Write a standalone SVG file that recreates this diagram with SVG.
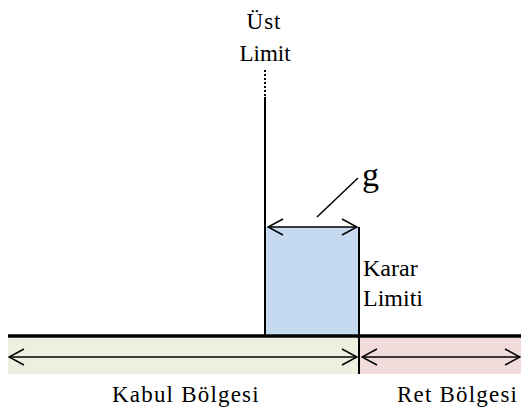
<svg xmlns="http://www.w3.org/2000/svg" width="521" height="412" viewBox="0 0 521 412">
<style>
.ln{stroke:#000;stroke-width:2;fill:none}
.arr{stroke:#000;stroke-width:1.5;fill:none;marker-start:url(#ah);marker-end:url(#ah)}
</style>
<defs>
<marker id="ah" markerUnits="userSpaceOnUse" viewBox="0 0 20 20" refX="19" refY="10" markerWidth="20" markerHeight="20" orient="auto-start-reverse">
<path d="M4,2 L19,10 L4,18" fill="none" stroke="#000" stroke-width="1.5"/>
</marker>
</defs>
<g id="regions">
<rect id="kabul-band" x="8" y="338" width="351" height="36" fill="#ebf1de"/>
<rect id="ret-band" x="360" y="338" width="161" height="36" fill="#f2dcdb"/>
<rect id="g-box" x="266" y="227" width="93" height="109" fill="#c5d9f1"/>
</g>
<g id="ust-limit">
<line x1="265" y1="70" x2="265" y2="97" stroke="#000" stroke-width="2" stroke-dasharray="2,2"/>
<line class="ln" x1="265" y1="97" x2="265" y2="336"/>
<text x="264" y="29" text-anchor="middle" font-family="Liberation Serif, serif" font-size="23" letter-spacing="1" fill="#000">Üst</text>
<text x="265" y="61" text-anchor="middle" font-family="Liberation Serif, serif" font-size="23" fill="#000">Limit</text>
</g>
<g id="karar-limiti">
<line class="ln" x1="359" y1="227" x2="359" y2="374"/>
<text x="363" y="276" font-family="Liberation Serif, serif" font-size="24" fill="#000">Karar</text>
<text x="363" y="306" font-family="Liberation Serif, serif" font-size="24" fill="#000">Limiti</text>
</g>
<g id="axis">
<line x1="8" y1="336" x2="521" y2="336" stroke="#000" stroke-width="3.5"/>
</g>
<g id="connectors">
<line class="arr" x1="268" y1="227" x2="357" y2="227"/>
<line stroke="#000" stroke-width="1.5" x1="317" y1="217" x2="358" y2="178"/>
<line class="arr" x1="9" y1="357" x2="357" y2="357"/>
<line class="arr" x1="362" y1="357" x2="520" y2="357"/>
</g>
<g id="g-label">
<text x="362" y="186" font-family="Liberation Serif, serif" font-size="34" fill="#000">g</text>
</g>
<g id="region-labels">
<text x="112" y="402" font-family="Liberation Serif, serif" font-size="23" letter-spacing="1.2" fill="#000">Kabul Bölgesi</text>
<text x="397" y="402" font-family="Liberation Serif, serif" font-size="23" letter-spacing="1.2" fill="#000">Ret Bölgesi</text>
</g>
</svg>
